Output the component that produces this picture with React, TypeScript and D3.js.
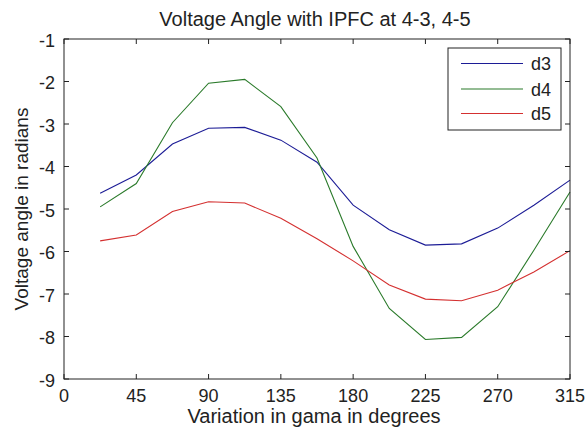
import React from "react";
import * as d3 from "d3";

const gamma = [22.5, 45, 67.5, 90, 112.5, 135, 157.5, 180, 202.5, 225, 247.5, 270, 292.5, 315];
const d3Values = [-4.63, -4.2, -3.47, -3.1, -3.08, -3.38, -3.9, -4.91, -5.49, -5.85, -5.82, -5.45, -4.91, -4.32];
const d4Values = [-4.95, -4.4, -2.97, -2.04, -1.95, -2.59, -3.8, -5.88, -7.34, -8.07, -8.02, -7.3, -5.97, -4.6];
const d5Values = [-5.75, -5.61, -5.06, -4.83, -4.86, -5.22, -5.7, -6.22, -6.79, -7.12, -7.16, -6.91, -6.48, -5.98];
const seriesNames = ["d3", "d4", "d5"];
const xTicks = [0, 45, 90, 135, 180, 225, 270, 315];
const yTicks = [-9, -8, -7, -6, -5, -4, -3, -2, -1];
const titleText = "Voltage Angle with IPFC at 4-3, 4-5";
const xLabel = "Variation in gama in degrees";
const yLabel = "Voltage angle in radians";

const colors = ["#1c1c96", "#2a7a2a", "#d43030"];

export default function App() {
  const W = 585, H = 429;
  const left = 64, right = 570, top = 39, bottom = 379;
  const x = d3.scaleLinear().domain([0, 315]).range([left, right]);
  const y = d3.scaleLinear().domain([-9, -1]).range([bottom, top]);
  const series = [d3Values, d4Values, d5Values];
  const line = d3
    .line<number>()
    .x((_, i) => x(gamma[i]))
    .y((v) => y(v));
  const font = "'Liberation Sans', Arial, sans-serif";
  const axisColor = "#222";
  const textColor = "#222";
  const tickLen = 5;
  const legend = { x0: 448, x1: 561, y0: 48, y1: 130 };
  const rowY = [63.5, 89, 113.5];

  return (
    <svg
      width={W}
      height={H}
      style={{ position: "absolute", left: 0, top: 0, background: "#fff" }}
      fontFamily={font}
    >
      <rect x={0} y={0} width={W} height={H} fill="#fff" />
      <text x={315} y={26} fontSize={20} textAnchor="middle" fill={textColor}>
        {titleText}
      </text>
      {/* series */}
      <g clipPath="none">
        {series.map((s, k) => (
          <path key={k} d={line(s) || ""} fill="none" stroke={colors[k]} strokeWidth={1.1} />
        ))}
      </g>
      {/* axes box */}
      <rect x={left} y={top} width={right - left} height={bottom - top} fill="none" stroke={axisColor} strokeWidth={1} />
      {xTicks.map((t) => (
        <g key={"x" + t}>
          <line x1={x(t)} x2={x(t)} y1={bottom} y2={bottom - tickLen} stroke={axisColor} />
          <line x1={x(t)} x2={x(t)} y1={top} y2={top + tickLen} stroke={axisColor} />
          <text x={x(t)} y={402} fontSize={18} textAnchor="middle" fill={textColor}>
            {t}
          </text>
        </g>
      ))}
      {yTicks.map((t) => (
        <g key={"y" + t}>
          <line x1={left} x2={left + tickLen} y1={y(t)} y2={y(t)} stroke={axisColor} />
          <line x1={right} x2={right - tickLen} y1={y(t)} y2={y(t)} stroke={axisColor} />
          <text x={55} y={y(t) + 7.5} fontSize={18} textAnchor="end" fill={textColor}>
            {t}
          </text>
        </g>
      ))}
      <text x={314} y={423} fontSize={20} textAnchor="middle" fill={textColor}>
        {xLabel}
      </text>
      <text
        transform={`translate(28, ${(top + bottom) / 2}) rotate(-90)`}
        fontSize={19}
        textAnchor="middle"
        fill={textColor}
      >
        {yLabel}
      </text>
      {/* legend */}
      <rect x={legend.x0} y={legend.y0} width={legend.x1 - legend.x0} height={legend.y1 - legend.y0} fill="#fff" stroke={axisColor} />
      {seriesNames.map((n, k) => (
        <g key={n}>
          <line x1={461} x2={523} y1={rowY[k]} y2={rowY[k]} stroke={colors[k]} strokeWidth={1.1} />
          <text x={531} y={rowY[k] + 6.5} fontSize={18} fill={textColor}>
            {n}
          </text>
        </g>
      ))}
    </svg>
  );
}
